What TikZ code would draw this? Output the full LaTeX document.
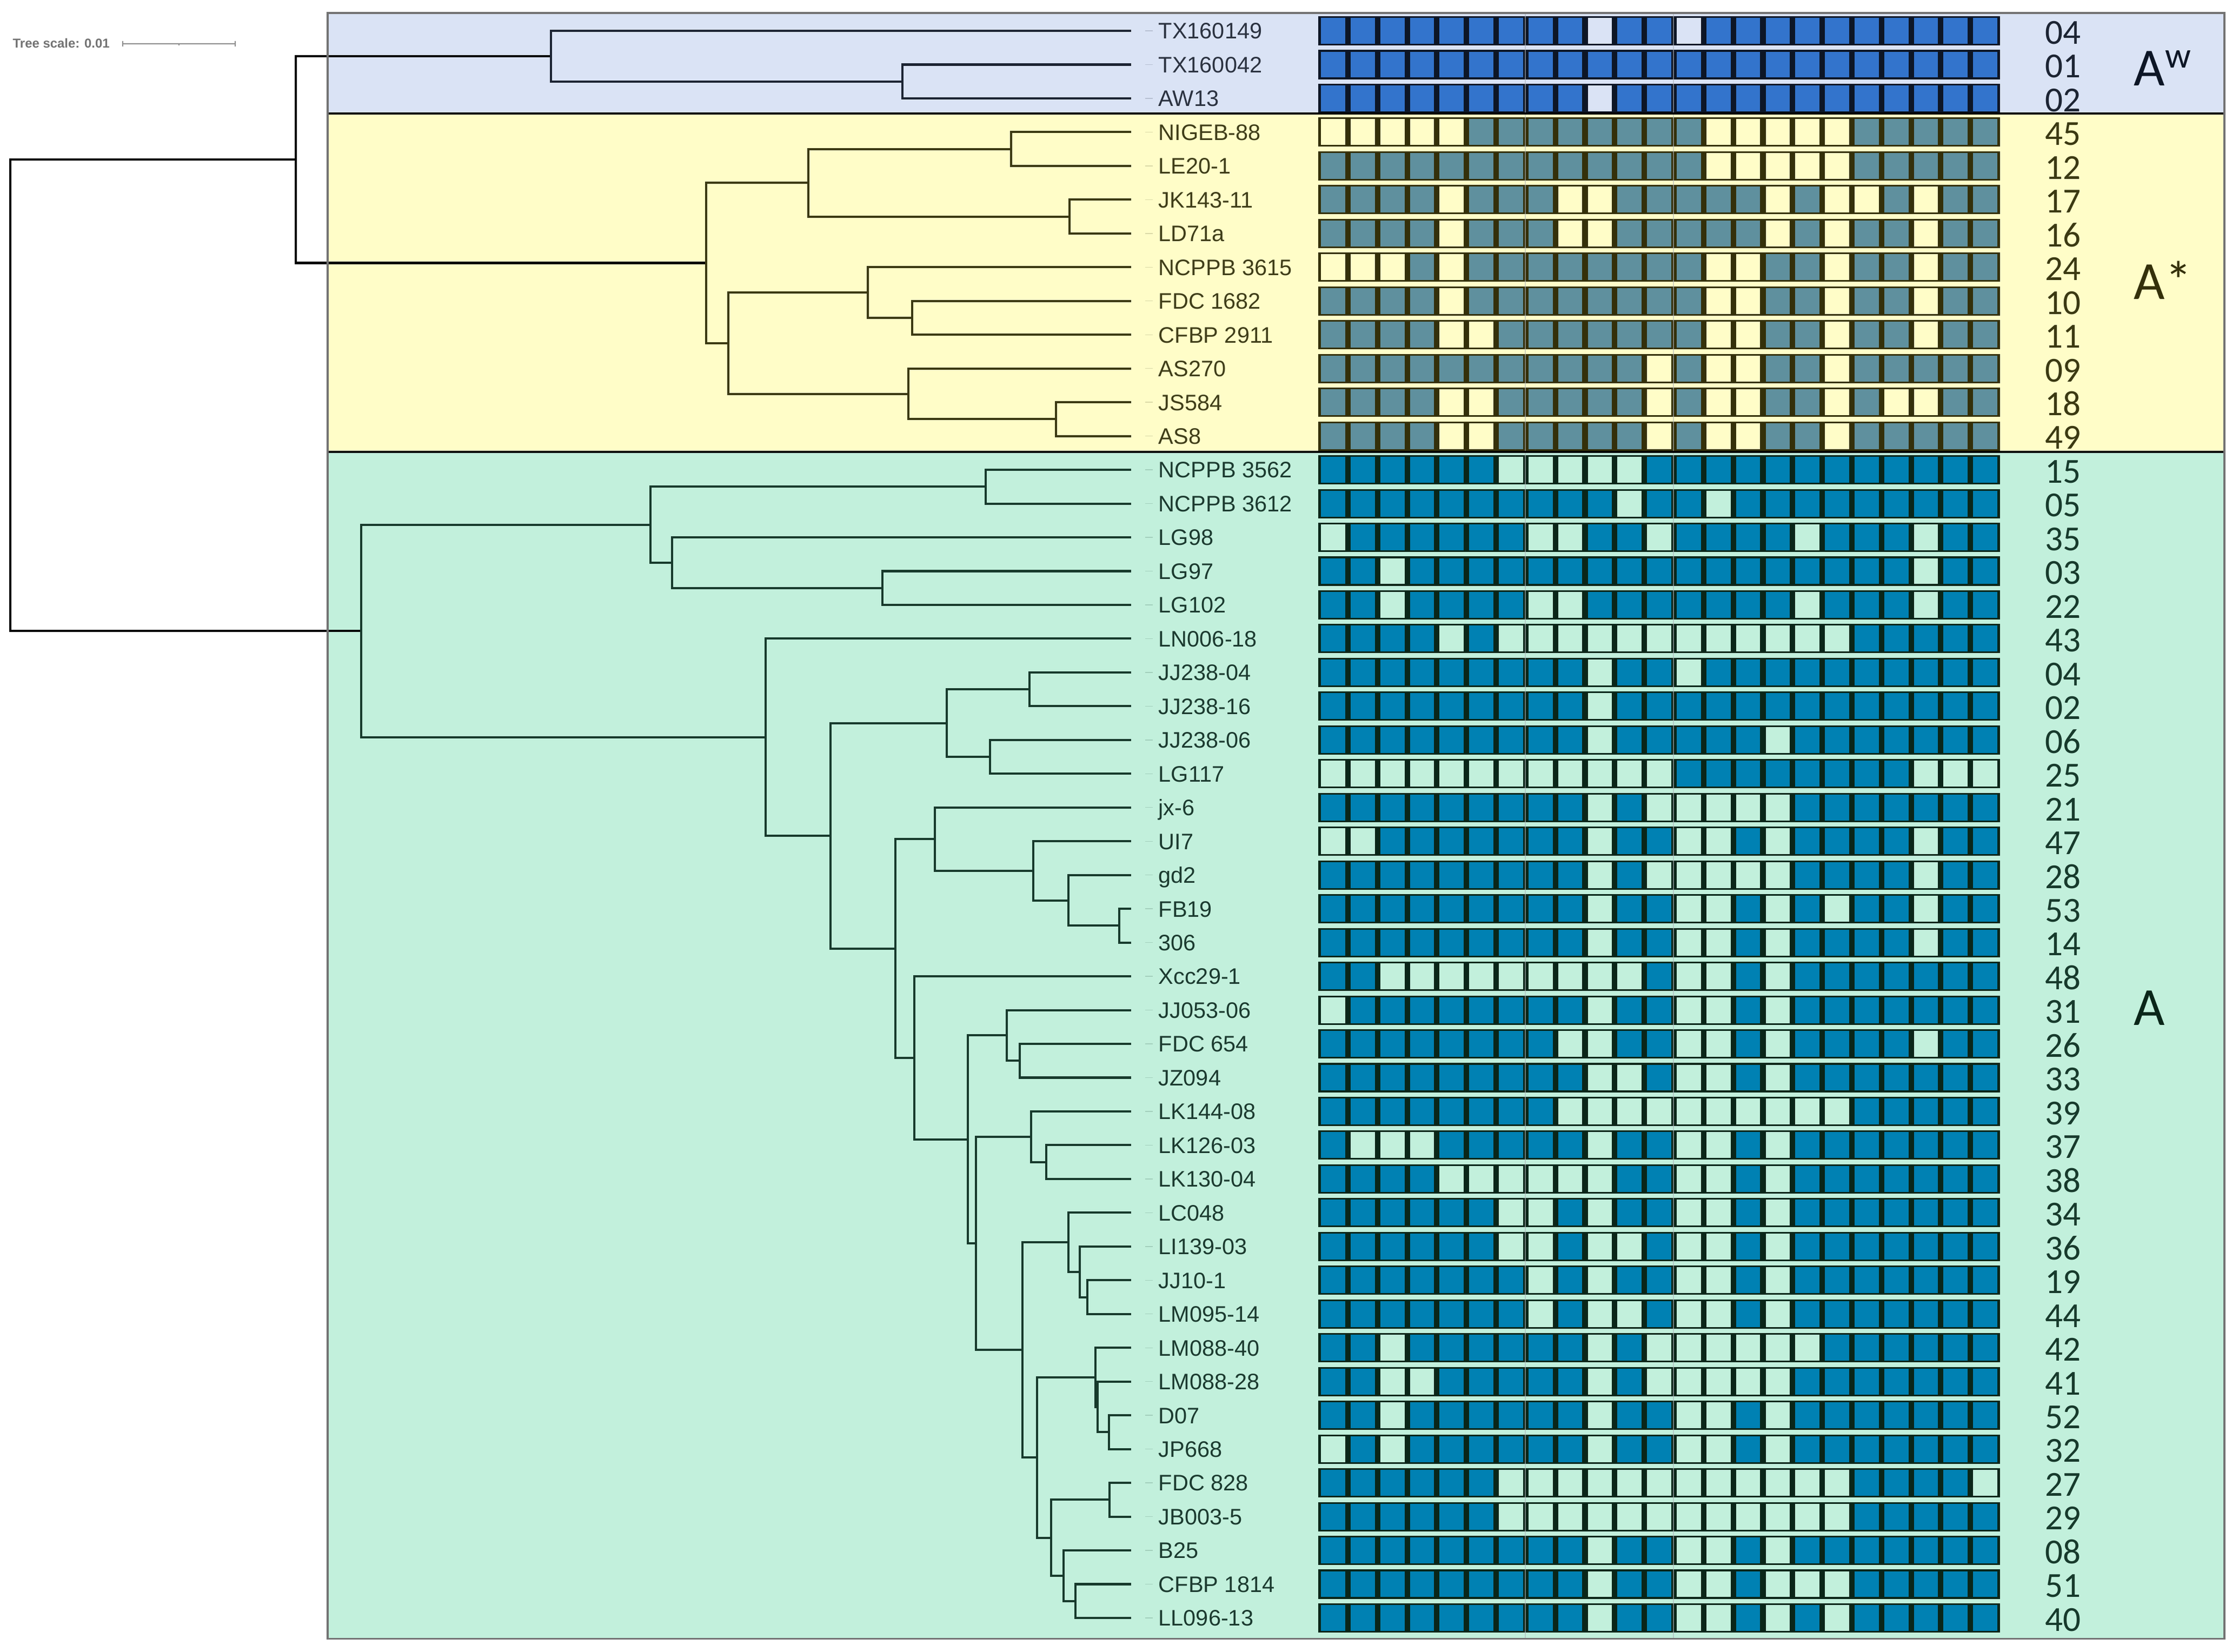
\documentclass[tikz,border=0pt]{standalone}
\usepackage{fontspec}
\setmainfont{Liberation Sans}
\newfontfamily\calfont{Carlito}
\usetikzlibrary{positioning}

\definecolor{bgW}{HTML}{DAE3F5}
\definecolor{bgS}{HTML}{FFFDC8}
\definecolor{bgA}{HTML}{C2F0DC}
\definecolor{onW}{HTML}{3374CC}
\definecolor{onS}{HTML}{5F909E}
\definecolor{onA}{HTML}{0081B3}
\definecolor{frameW}{HTML}{0D1626}
\definecolor{frameS}{HTML}{34300A}
\definecolor{frameA}{HTML}{0A2619}
\definecolor{lineW}{HTML}{1C2433}
\definecolor{lineS}{HTML}{3B3912}
\definecolor{lineA}{HTML}{173A2C}
\definecolor{txtW}{HTML}{2B3240}
\definecolor{txtS}{HTML}{3F3D18}
\definecolor{txtA}{HTML}{1B3A2F}
\definecolor{sepgrey}{HTML}{AFB4B9}

\newcommand\cellrow[2]{\def\cellrowno{#1}\def\cellk{0}\expandafter\cellscan#2\relax}
\def\cellscan#1{%
  \ifx\relax#1\else
    \ifnum#1=1 \def\cellcol{cellon}\else\def\cellcol{celloff}\fi
    \fill[fill=\cellcol] ({2443+54.83*\cellk},\cellrowno-0.384) rectangle ++(44.8,0.768);
    \pgfmathtruncatemacro\cellk{\cellk+1}%
    \expandafter\cellscan
  \fi}

\begin{document}
\begin{tikzpicture}[x=0.01cm,y=-0.6243cm,
  tiplabel/.style={anchor=west,inner sep=0pt,text height=8.45pt,text depth=0pt,font=\fontsize{11.8}{14}\selectfont},
  strainno/.style={inner sep=0pt,text height=11.7pt,text depth=0pt,font=\calfont\fontsize{18.5}{22}\selectfont},
  grouplabel/.style={anchor=base west,inner sep=0pt,font=\calfont\fontsize{28.2}{34}\selectfont},
  branch/.style={line width=1.15pt},
  leader/.style={line width=0.4pt,opacity=0.18},
  groupline/.style={draw=sepgrey,opacity=0.6,line width=0.6pt},
  boxline/.style={draw=black!55,line width=0.9pt},
  cladeline/.style={draw=black,line width=1.1pt},
  scalebar/.style={draw=black!45,line width=0.6pt}]
\useasboundingbox (0,-0.913) rectangle (4128,48.006);
\fill[white] (0,-0.913) rectangle (4128,48.006);

\fill[bgW] (606,-0.529) rectangle (4114,2.45);
\fill[bgS] (606,2.45) rectangle (4114,12.47);
\fill[bgA] (606,12.47) rectangle (4114,47.62);

\colorlet{cellon}{onW}\colorlet{celloff}{bgW}
\foreach \lab/\nr/\pat [count=\idx from 0] in {
  TX160149/04/11111111101101111111111,
  TX160042/01/11111111111111111111111,
  AW13/02/11111111101111111111111}{
  \coordinate (t\idx) at (2092,\idx);
  \node[tiplabel,text=txtW,right=0.5cm of t\idx] (lab\idx) {\lab};
  \draw[leader,draw=lineW] ([xshift=0.26cm]t\idx) -- ++(14,0);
  \fill[frameW] (2438,\idx-0.4325) rectangle (3699,\idx+0.4325);
  \cellrow{\idx}{\pat}
  \node[strainno,text=lineW] (nr\idx) at (3815,\idx+0.06) {\nr};
}

\colorlet{cellon}{onS}\colorlet{celloff}{bgS}
\foreach \lab/\nr/\pat [count=\idx from 3] in {
  NIGEB-88/45/00000111111110000011111,
  LE20-1/12/11111111111110000011111,
  JK143-11/17/11110111001111101001011,
  LD71a/16/11110111001111101011011,
  NCPPB 3615/24/00010111111110011011011,
  FDC 1682/10/11110111111110011011011,
  CFBP 2911/11/11110011111110011011011,
  AS270/09/11111111111010011011111,
  JS584/18/11110011111010011010011,
  AS8/49/11110011111010011011111}{
  \coordinate (t\idx) at (2092,\idx);
  \node[tiplabel,text=txtS,right=0.5cm of t\idx] (lab\idx) {\lab};
  \draw[leader,draw=lineS] ([xshift=0.26cm]t\idx) -- ++(14,0);
  \fill[frameS] (2438,\idx-0.4325) rectangle (3699,\idx+0.4325);
  \cellrow{\idx}{\pat}
  \node[strainno,text=lineS] (nr\idx) at (3815,\idx+0.06) {\nr};
}

\colorlet{cellon}{onA}\colorlet{celloff}{bgA}
\foreach \lab/\nr/\pat [count=\idx from 13] in {
  NCPPB 3562/15/11111100000111111111111,
  NCPPB 3612/05/11111111110110111111111,
  LG98/35/01111110011011110111011,
  LG97/03/11011111111111111111011,
  LG102/22/11011110011111110111011,
  LN006-18/43/11110100000000000011111,
  JJ238-04/04/11111111101101111111111,
  JJ238-16/02/11111111101111111111111,
  JJ238-06/06/11111111101111101111111,
  LG117/25/00000000000011111111000,
  jx-6/21/11111111101000001111111,
  UI7/47/00111111101100101111011,
  gd2/28/11111111101000001111011,
  FB19/53/11111111101100101011011,
  306/14/11111111101100101111011,
  Xcc29-1/48/11000000000100101111111,
  JJ053-06/31/01111111101100101111111,
  FDC 654/26/11111111001100101111011,
  JZ094/33/11111111100100101111111,
  LK144-08/39/11111111000000000011111,
  LK126-03/37/10001111101100101111111,
  LK130-04/38/11110000001100101111111,
  LC048/34/11111100101100101111111,
  LI139-03/36/11111100100100101111111,
  JJ10-1/19/11111110101100101111111,
  LM095-14/44/11111110100100101111111,
  LM088-40/42/11011111101000000111111,
  LM088-28/41/11001111101000001111111,
  D07/52/11011111101100101111111,
  JP668/32/01011111101100101111111,
  FDC 828/27/11111100000000000011110,
  JB003-5/29/11111100000000000011111,
  B25/08/11111111101100101111111,
  CFBP 1814/51/11111111101100100011111,
  LL096-13/40/11111111101100101011111}{
  \coordinate (t\idx) at (2092,\idx);
  \node[tiplabel,text=txtA,right=0.5cm of t\idx] (lab\idx) {\lab};
  \draw[leader,draw=lineA] ([xshift=0.26cm]t\idx) -- ++(14,0);
  \fill[frameA] (2438,\idx-0.4325) rectangle (3699,\idx+0.4325);
  \cellrow{\idx}{\pat}
  \node[strainno,text=lineA] (nr\idx) at (3815,\idx+0.06) {\nr};
}

\coordinate (root) at (19,10.79);
\coordinate (nAWS) at (547,3.8125);
\coordinate (nAW) at (1019,0.75);
\coordinate (nAWb) at (1669,1.5);
\coordinate (nS) at (1306,6.875);
\coordinate (nS12) at (1495,4.5);
\coordinate (nS1) at (1870,3.5);
\coordinate (nS2) at (1978,5.5);
\coordinate (nS46) at (1347,9.25);
\coordinate (nS4) at (1605,7.75);
\coordinate (nS3) at (1687,8.5);
\coordinate (nS6) at (1680,10.75);
\coordinate (nS5) at (1953,11.5);
\coordinate (nA) at (668,17.772);
\coordinate (nA4) at (1203,14.625);
\coordinate (nA1) at (1823,13.5);
\coordinate (nA3) at (1243,15.75);
\coordinate (nA2) at (1632,16.5);
\coordinate (nLN) at (1416,20.919);
\coordinate (nMid) at (1536,23.838);
\coordinate (nJJ238) at (1751,20.5);
\coordinate (nJJa) at (1904,19.5);
\coordinate (nJJb) at (1831,21.5);
\coordinate (nJXX) at (1656,27.176);
\coordinate (nJX) at (1729,23.9375);
\coordinate (nUI) at (1911,24.875);
\coordinate (nGD) at (1976,25.75);
\coordinate (nFB306) at (2070,26.5);
\coordinate (nXcc) at (1691,30.414);
\coordinate (nJJLK) at (1790,32.828);
\coordinate (nJJ053) at (1862,29.75);
\coordinate (nFDC654) at (1886,30.5);
\coordinate (nLKLC) at (1805,35.906);
\coordinate (nLK) at (1907,32.75);
\coordinate (nLK1) at (1935,33.5);
\coordinate (nLCLM) at (1891,39.0625);
\coordinate (nLC) at (1976,35.875);
\coordinate (nLI) at (1997,36.75);
\coordinate (nJJ10) at (2011,37.5);
\coordinate (nLMFB) at (1918,42.25);
\coordinate (nLM) at (2026,39.875);
\coordinate (nLM28) at (2030,40.75);
\coordinate (nDJ) at (2051,41.5);
\coordinate (nFB) at (1944,44.625);
\coordinate (nFDC828) at (2052,43.5);
\coordinate (nB25) at (1967,45.75);
\coordinate (nCF) at (1989,46.5);

\foreach \p/\c in {root/nAWS,root/nA,nAWS/nAW,nAWS/nS}
  \draw[branch,black] (\p) |- (\c);
\foreach \p/\c in {nAW/t0,nAW/nAWb,nAWb/t1,nAWb/t2}
  \draw[branch,lineW] (\p) |- (\c);
\foreach \p/\c in {nS/nS12,nS/nS46,nS12/nS1,nS12/nS2,nS1/t3,nS1/t4,nS2/t5,nS2/t6,
  nS46/nS4,nS46/nS6,nS4/t7,nS4/nS3,nS3/t8,nS3/t9,nS6/t10,nS6/nS5,nS5/t11,nS5/t12}
  \draw[branch,lineS] (\p) |- (\c);
\foreach \p/\c in {nA/nA4,nA/nLN,nA4/nA1,nA4/nA3,nA1/t13,nA1/t14,nA3/t15,nA3/nA2,
  nA2/t16,nA2/t17,nLN/t18,nLN/nMid,nMid/nJJ238,nMid/nJXX,nJJ238/nJJa,nJJ238/nJJb,
  nJJa/t19,nJJa/t20,nJJb/t21,nJJb/t22,nJXX/nJX,nJXX/nXcc,nJX/t23,nJX/nUI,
  nUI/t24,nUI/nGD,nGD/t25,nGD/nFB306,nFB306/t26,nFB306/t27,nXcc/t28,nXcc/nJJLK,
  nJJLK/nJJ053,nJJLK/nLKLC,nJJ053/t29,nJJ053/nFDC654,nFDC654/t30,nFDC654/t31,
  nLKLC/nLK,nLKLC/nLCLM,nLK/t32,nLK/nLK1,nLK1/t33,nLK1/t34,nLCLM/nLC,nLCLM/nLMFB,
  nLC/t35,nLC/nLI,nLI/t36,nLI/nJJ10,nJJ10/t37,nJJ10/t38,nLMFB/nLM,nLMFB/nFB,
  nLM/t39,nLM/nLM28,nLM28/t40,nLM28/nDJ,nDJ/t41,nDJ/t42,nFB/nFDC828,nFB/nB25,
  nFDC828/t43,nFDC828/t44,nB25/t45,nB25/nCF,nCF/t46,nCF/t47}
  \draw[branch,lineA] (\p) |- (\c);

\draw[groupline] (2821,-0.529) -- (2821,47.62);
\draw[groupline] (3095,-0.529) -- (3095,47.62);

\draw[cladeline] (606,2.45) -- (4114,2.45);
\draw[cladeline] (606,12.47) -- (4114,12.47);
\draw[boxline] (606,-0.529) rectangle (4114,47.62);

\node[grouplabel,text=frameW] (gAW) at (3946,1.62) {A\raisebox{9.3pt}{\fontsize{19}{20}\selectfont w}};
\node[grouplabel,text=frameS] (gAS) at (3946,7.95) {A*};
\node[grouplabel,text=frameA] (gA) at (3946,29.44) {A};

\node[anchor=west,inner sep=0pt,text=black!55,font=\bfseries\fontsize{6.8}{8}\selectfont] (scalelab) at (23,0.37) {Tree scale: 0.01};
\coordinate (sbL) at (227,0.385);
\coordinate (sbR) at (435,0.385);
\draw[scalebar] (sbL) -- (sbR);
\draw[scalebar] (227,0.3) -- (227,0.47);
\draw[scalebar] (435,0.3) -- (435,0.47);
\draw[scalebar] (331,0.385) -- (331,0.43);
\end{tikzpicture}
\end{document}
